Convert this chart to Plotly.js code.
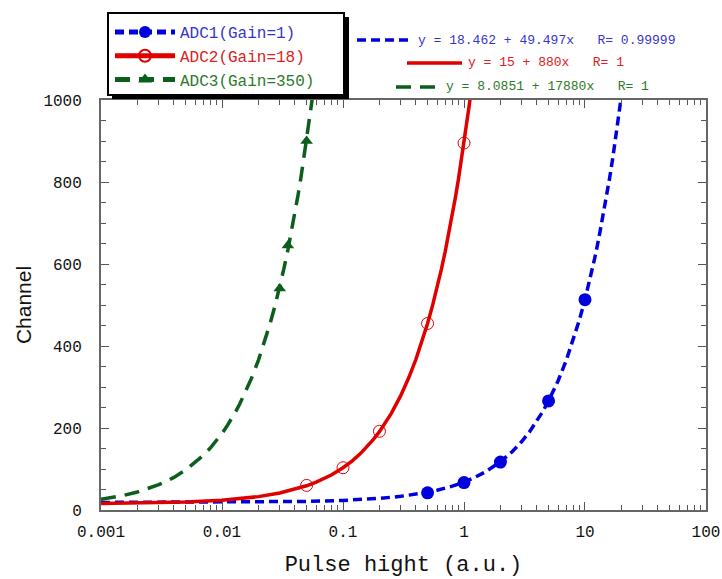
<!DOCTYPE html>
<html>
<head>
<meta charset="utf-8">
<script src="https://cdn.plot.ly/plotly-3.0.1.min.js"></script>
<style>html,body{margin:0;padding:0;background:#fff;}#chart{width:722px;height:579px;}</style>
</head>
<body>
<div id="chart"></div>
<script>
// Measured points
var adc1X = [0.5, 1, 2, 5, 10];
var adc1Y = [42, 67, 117, 266, 513];
var adc2X = [0.05, 0.1, 0.2, 0.5, 1];
var adc2Y = [60, 103, 192, 455, 895];
var adc3X = [0.03, 0.035, 0.05];
var adc3Y = [540, 645, 900];

// Fit curves (points on the fitted lines given in the chart)
var fit1X = [0.001, 0.01, 0.05, 0.1, 0.15, 0.2, 0.3, 0.4, 0.5, 0.6, 0.7, 0.8, 1, 1.2, 1.5, 1.8, 2, 2.5, 3, 3.5, 4, 4.5, 5, 6, 7, 8, 9, 10, 11, 12, 13, 14, 15, 16, 17, 18, 19, 20.5];
var fit1Y = [18.5, 19.0, 20.9, 23.4, 25.9, 28.4, 33.3, 38.3, 43.2, 48.2, 53.1, 58.1, 68.0, 77.9, 92.7, 107.6, 117.5, 142.2, 167.0, 191.7, 216.5, 241.2, 266.0, 315.4, 364.9, 414.4, 463.9, 513.4, 562.9, 612.4, 661.9, 711.4, 760.9, 810.4, 859.9, 909.4, 958.9, 1033.2];
var fit2X = [0.001, 0.002, 0.005, 0.01, 0.02, 0.03, 0.04, 0.05, 0.06, 0.07, 0.08, 0.1, 0.12, 0.14, 0.16, 0.18, 0.2, 0.25, 0.3, 0.35, 0.4, 0.45, 0.5, 0.55, 0.6, 0.65, 0.7, 0.75, 0.8, 0.85, 0.9, 0.95, 1, 1.05, 1.1, 1.15];
var fit2Y = [15.9, 16.8, 19.4, 23.8, 32.6, 41.4, 50.2, 59.0, 67.8, 76.6, 85.4, 103.0, 120.6, 138.2, 155.8, 173.4, 191.0, 235.0, 279.0, 323.0, 367.0, 411.0, 455.0, 499.0, 543.0, 587.0, 631.0, 675.0, 719.0, 763.0, 807.0, 851.0, 895.0, 939.0, 983.0, 1027.0];
var fit3X = [0.001, 0.0012, 0.0015, 0.002, 0.0025, 0.003, 0.0035, 0.004, 0.005, 0.006, 0.007, 0.008, 0.009, 0.01, 0.011, 0.012, 0.013, 0.014, 0.015, 0.0175, 0.02, 0.0225, 0.025, 0.0275, 0.03, 0.0325, 0.035, 0.0375, 0.04, 0.0425, 0.045, 0.0475, 0.05, 0.0525, 0.055, 0.0575];
var fit3Y = [26.0, 29.5, 34.9, 43.9, 52.8, 61.7, 70.7, 79.6, 97.5, 115.4, 133.2, 151.1, 169.0, 186.9, 204.8, 222.6, 240.5, 258.4, 276.3, 321.0, 365.7, 410.4, 455.1, 499.8, 544.5, 589.2, 633.9, 678.6, 723.3, 768.0, 812.7, 857.4, 902.1, 946.8, 991.5, 1036.2];

var seriesNames = ['ADC1(Gain=1)', 'ADC2(Gain=18)', 'ADC3(Gain=350)'];
var fitTexts = ['y = 18.462 + 49.497x   R= 0.99999', 'y = 15 + 880x   R= 1', 'y = 8.0851 + 17880x   R= 1'];
var xTickVals = [0.001, 0.01, 0.1, 1, 10, 100];
var xTickText = ['0.001', '0.01', '0.1', '1', '10', '100'];
var yTickVals = [0, 200, 400, 600, 800, 1000];

var BLUE = '#0000dd', RED = '#e00000', GREEN = '#0b5e1c';
var BLUE_T = '#3535cc', RED_T = '#dd2020', GREEN_T = '#2b7a2b';
var MONO = 'Liberation Mono, monospace';

var L = 101, R = 706, T = 100, B = 510;
function px(x) { return (x - L) / (R - L); }
function py(y) { return (B - y) / (B - T); }

var line1 = {color: BLUE, width: 3.5, dash: '9px,5px'};
var line2 = {color: RED, width: 3.5};
var line3 = {color: GREEN, width: 3.5, dash: '15px,9px'};
var mk1 = {symbol: 'circle', size: 13, color: BLUE};
var mk2 = {symbol: 'circle-open', size: 12, color: RED, line: {width: 1, color: RED}};
var mk3 = {symbol: 'triangle-up', size: 11, color: GREEN};

var traces = [
  {x: fit1X, y: fit1Y, mode: 'lines', line: line1, showlegend: false, hoverinfo: 'skip'},
  {x: fit2X, y: fit2Y, mode: 'lines', line: line2, showlegend: false, hoverinfo: 'skip'},
  {x: fit3X, y: fit3Y, mode: 'lines', line: line3, showlegend: false, hoverinfo: 'skip'},
  {x: adc1X, y: adc1Y, mode: 'markers', marker: mk1, showlegend: false},
  {x: adc2X, y: adc2Y, mode: 'markers', marker: mk2, showlegend: false},
  {x: adc3X, y: adc3Y, mode: 'markers', marker: mk3, showlegend: false},
  {x: [null], y: [null], mode: 'lines+markers', line: line1, marker: mk1,
   name: '<span style="color:' + BLUE_T + '">' + seriesNames[0] + '</span>'},
  {x: [null], y: [null], mode: 'lines+markers', line: line2, marker: mk2,
   name: '<span style="color:' + RED_T + '">' + seriesNames[1] + '</span>'},
  {x: [null], y: [null], mode: 'lines+markers', line: line3, marker: mk3,
   name: '<span style="color:' + GREEN_T + '">' + seriesNames[2] + '</span>'}
];

var shapes = [
  {type: 'rect', xref: 'paper', yref: 'paper', x0: px(112), x1: px(349), y0: py(99), y1: py(17),
   fillcolor: '#000', line: {width: 0}, layer: 'above'},
  {type: 'rect', xref: 'paper', yref: 'paper', x0: px(108), x1: px(344), y0: py(95), y1: py(13),
   fillcolor: '#fff', line: {width: 2, color: '#000'}, layer: 'above'},
  {type: 'line', xref: 'paper', yref: 'paper', x0: px(357), x1: px(413), y0: py(40), y1: py(40), line: line1},
  {type: 'line', xref: 'paper', yref: 'paper', x0: px(407), x1: px(462), y0: py(63), y1: py(63), line: line2},
  {type: 'line', xref: 'paper', yref: 'paper', x0: px(396), x1: px(437), y0: py(87), y1: py(87), line: line3}
];

var annotations = [
  {xref: 'paper', yref: 'paper', x: px(416), y: py(40), xanchor: 'left', yanchor: 'middle', showarrow: false,
   text: fitTexts[0], font: {family: MONO, size: 13, color: BLUE_T}},
  {xref: 'paper', yref: 'paper', x: px(466), y: py(63), xanchor: 'left', yanchor: 'middle', showarrow: false,
   text: fitTexts[1], font: {family: MONO, size: 13, color: RED_T}},
  {xref: 'paper', yref: 'paper', x: px(444), y: py(87), xanchor: 'left', yanchor: 'middle', showarrow: false,
   text: fitTexts[2], font: {family: MONO, size: 13, color: GREEN_T}}
];

var layout = {
  width: 722, height: 579,
  margin: {l: L, r: 722 - R, t: T, b: 579 - B, pad: 0},
  paper_bgcolor: '#fff', plot_bgcolor: '#fff',
  showlegend: true,
  legend: {x: px(110), y: py(15), xanchor: 'left', yanchor: 'top', bgcolor: 'rgba(0,0,0,0)',
           borderwidth: 0, itemwidth: 60, itemsizing: 'constant', tracegroupgap: 0,
           font: {family: MONO, size: 16, color: '#000'}},
  xaxis: {
    type: 'log', range: [-3.0002, 2.0002], tickvals: xTickVals, ticktext: xTickText,
    ticks: 'inside', ticklen: 8, tickwidth: 1, tickcolor: '#555', ticklabeloverflow: 'allow',
    minor: {dtick: 'D1', ticks: 'inside', ticklen: 5, tickwidth: 1, tickcolor: '#555', showgrid: false},
    showline: true, linecolor: '#666', linewidth: 2, mirror: 'allticks',
    showgrid: false, zeroline: false, ticklabelstandoff: 6,
    tickfont: {family: MONO, size: 16, color: '#111'},
    title: {text: 'Pulse hight (a.u.)', font: {family: MONO, size: 22, color: '#111'}, standoff: 14}
  },
  yaxis: {
    range: [0, 1000], tickvals: yTickVals,
    ticks: 'inside', ticklen: 8, tickwidth: 1, tickcolor: '#555',
    minor: {dtick: 50, ticks: 'inside', ticklen: 5, tickwidth: 1, tickcolor: '#555', showgrid: false},
    showline: true, linecolor: '#666', linewidth: 2, mirror: 'allticks',
    showgrid: false, zeroline: false, ticklabelstandoff: 14,
    tickfont: {family: MONO, size: 16, color: '#111'},
    title: {text: 'Channel', font: {family: 'Liberation Sans, Arial, sans-serif', size: 21, color: '#111'}, standoff: 6}
  },
  shapes: shapes,
  annotations: annotations
};

Plotly.newPlot('chart', traces, layout, {displayModeBar: false, staticPlot: true});
</script>
</body>
</html>
